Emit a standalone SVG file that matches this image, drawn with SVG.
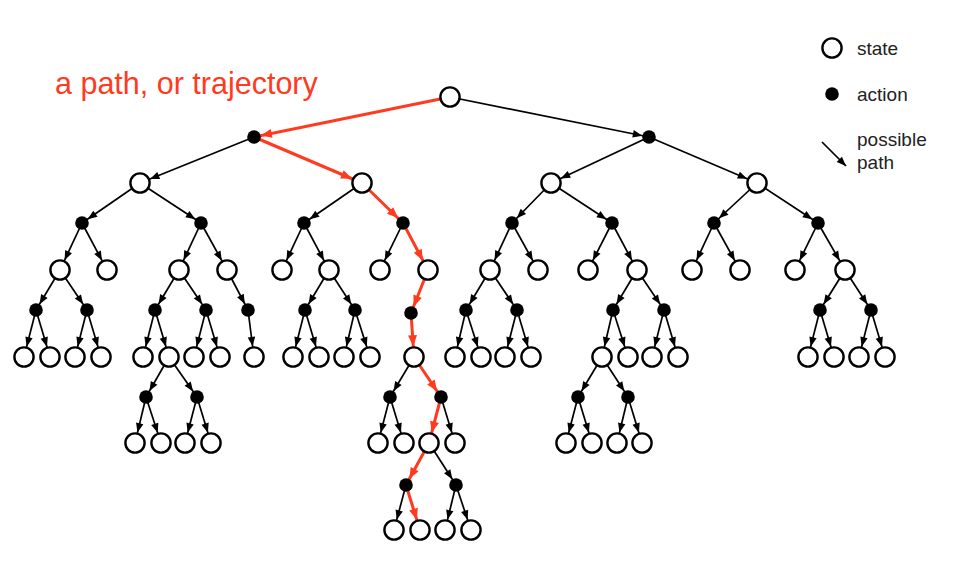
<svg xmlns="http://www.w3.org/2000/svg" width="954" height="564" viewBox="0 0 954 564">
  <style>
    .s { fill: #fff; stroke: #000; stroke-width: 2.4; }
    .a { fill: #000; }
    .e { stroke: #000; stroke-width: 1.7; fill: none; }
    .r { stroke: #ff3a1e; stroke-width: 3; fill: none; }
    .e.ts { marker-end: url(#hs); }
    .e.ta { marker-end: url(#ha); }
    .r.ts { marker-end: url(#rs); }
    .r.ta { marker-end: url(#ra); }
    .lbl { font-family: "Liberation Sans", Arial, sans-serif; font-size: 19px; fill: #222; }
    .title { font-family: "Liberation Sans", Arial, sans-serif; font-size: 30.5px; fill: #ff3a1e; }
  </style>
  <defs>
    <!-- arrowheads: refX pushes the tip back to the edge of the target node -->
    <marker id="hs" markerUnits="userSpaceOnUse" markerWidth="11" markerHeight="8" refX="20.2" refY="3.75" orient="auto" overflow="visible">
      <path d="M0,0 L9.5,3.75 L0,7.5z" fill="#000"/>
    </marker>
    <marker id="ha" markerUnits="userSpaceOnUse" markerWidth="11" markerHeight="8" refX="16.3" refY="3.75" orient="auto" overflow="visible">
      <path d="M0,0 L9.5,3.75 L0,7.5z" fill="#000"/>
    </marker>
    <marker id="rs" markerUnits="userSpaceOnUse" markerWidth="12" markerHeight="10" refX="21.8" refY="4.5" orient="auto" overflow="visible">
      <path d="M0,0 L11,4.5 L0,9z" fill="#ff3a1e"/>
    </marker>
    <marker id="ra" markerUnits="userSpaceOnUse" markerWidth="12" markerHeight="10" refX="18" refY="4.5" orient="auto" overflow="visible">
      <path d="M0,0 L11,4.5 L0,9z" fill="#ff3a1e"/>
    </marker>
    <marker id="hl" markerUnits="userSpaceOnUse" markerWidth="11" markerHeight="8" refX="9.5" refY="3.75" orient="auto" overflow="visible">
      <path d="M0,0 L9.5,3.75 L0,7.5z" fill="#000"/>
    </marker>
  </defs>

  <text class="title" x="55" y="94">a path, or trajectory</text>

  <!-- connectors -->
  <g id="connectors">
    <line class="r ta" x1="450" y1="97" x2="254" y2="137"/>
    <line class="e ta" x1="450" y1="97" x2="649" y2="137"/>
    <line class="e ts" x1="254" y1="137" x2="140" y2="183"/>
    <line class="r ts" x1="254" y1="137" x2="362" y2="183"/>
    <line class="e ts" x1="649" y1="137" x2="551" y2="183"/>
    <line class="e ts" x1="649" y1="137" x2="757" y2="183"/>

    <line class="e ta" x1="140" y1="183" x2="82" y2="223"/>
    <line class="e ta" x1="140" y1="183" x2="201" y2="223"/>
    <line class="e ta" x1="362" y1="183" x2="304" y2="223"/>
    <line class="r ta" x1="362" y1="183" x2="403" y2="223"/>
    <line class="e ta" x1="551" y1="183" x2="512" y2="223"/>
    <line class="e ta" x1="551" y1="183" x2="612" y2="223"/>
    <line class="e ta" x1="757" y1="183" x2="714" y2="223"/>
    <line class="e ta" x1="757" y1="183" x2="818" y2="223"/>

    <line class="e ts" x1="82" y1="223" x2="60" y2="270"/>
    <line class="e ts" x1="82" y1="223" x2="107" y2="270"/>
    <line class="e ts" x1="201" y1="223" x2="179" y2="270"/>
    <line class="e ts" x1="201" y1="223" x2="227" y2="270"/>
    <line class="e ts" x1="304" y1="223" x2="282" y2="270"/>
    <line class="e ts" x1="304" y1="223" x2="329" y2="270"/>
    <line class="e ts" x1="403" y1="223" x2="380" y2="270"/>
    <line class="r ts" x1="403" y1="223" x2="428" y2="270"/>
    <line class="e ts" x1="512" y1="223" x2="490" y2="270"/>
    <line class="e ts" x1="512" y1="223" x2="538" y2="270"/>
    <line class="e ts" x1="612" y1="223" x2="588" y2="270"/>
    <line class="e ts" x1="612" y1="223" x2="637" y2="270"/>
    <line class="e ts" x1="714" y1="223" x2="692" y2="270"/>
    <line class="e ts" x1="714" y1="223" x2="740" y2="270"/>
    <line class="e ts" x1="818" y1="223" x2="795" y2="270"/>
    <line class="e ts" x1="818" y1="223" x2="845" y2="270"/>

    <line class="e ta" x1="60" y1="270" x2="36" y2="310"/>
    <line class="e ta" x1="60" y1="270" x2="87" y2="310"/>
    <line class="e ta" x1="179" y1="270" x2="155" y2="310"/>
    <line class="e ta" x1="179" y1="270" x2="206" y2="310"/>
    <line class="e ta" x1="227" y1="270" x2="248" y2="310"/>
    <line class="e ta" x1="329" y1="270" x2="305" y2="310"/>
    <line class="e ta" x1="329" y1="270" x2="355" y2="310"/>
    <line class="r ta" x1="428" y1="270" x2="411" y2="313"/>
    <line class="e ta" x1="490" y1="270" x2="466" y2="310"/>
    <line class="e ta" x1="490" y1="270" x2="517" y2="310"/>
    <line class="e ta" x1="637" y1="270" x2="613" y2="310"/>
    <line class="e ta" x1="637" y1="270" x2="664" y2="310"/>
    <line class="e ta" x1="845" y1="270" x2="820" y2="310"/>
    <line class="e ta" x1="845" y1="270" x2="871" y2="310"/>

    <line class="e ts" x1="36" y1="310" x2="24" y2="357"/>
    <line class="e ts" x1="36" y1="310" x2="50" y2="357"/>
    <line class="e ts" x1="87" y1="310" x2="75" y2="357"/>
    <line class="e ts" x1="87" y1="310" x2="101" y2="357"/>
    <line class="e ts" x1="155" y1="310" x2="143" y2="357"/>
    <line class="e ts" x1="155" y1="310" x2="169" y2="357"/>
    <line class="e ts" x1="206" y1="310" x2="194" y2="357"/>
    <line class="e ts" x1="206" y1="310" x2="220" y2="357"/>
    <line class="e ts" x1="248" y1="310" x2="254" y2="357"/>
    <line class="e ts" x1="305" y1="310" x2="293" y2="357"/>
    <line class="e ts" x1="305" y1="310" x2="319" y2="357"/>
    <line class="e ts" x1="355" y1="310" x2="344" y2="357"/>
    <line class="e ts" x1="355" y1="310" x2="370" y2="357"/>
    <line class="r ts" x1="411" y1="313" x2="414" y2="357"/>
    <line class="e ts" x1="466" y1="310" x2="455" y2="357"/>
    <line class="e ts" x1="466" y1="310" x2="481" y2="357"/>
    <line class="e ts" x1="517" y1="310" x2="505" y2="357"/>
    <line class="e ts" x1="517" y1="310" x2="531" y2="357"/>
    <line class="e ts" x1="613" y1="310" x2="602" y2="357"/>
    <line class="e ts" x1="613" y1="310" x2="628" y2="357"/>
    <line class="e ts" x1="664" y1="310" x2="652" y2="357"/>
    <line class="e ts" x1="664" y1="310" x2="678" y2="357"/>
    <line class="e ts" x1="820" y1="310" x2="808" y2="357"/>
    <line class="e ts" x1="820" y1="310" x2="834" y2="357"/>
    <line class="e ts" x1="871" y1="310" x2="859" y2="357"/>
    <line class="e ts" x1="871" y1="310" x2="885" y2="357"/>

    <line class="e ta" x1="169" y1="357" x2="146" y2="397"/>
    <line class="e ta" x1="169" y1="357" x2="197" y2="397"/>
    <line class="e ta" x1="414" y1="357" x2="390" y2="397"/>
    <line class="r ta" x1="414" y1="357" x2="441" y2="397"/>
    <line class="e ta" x1="602" y1="357" x2="578" y2="397"/>
    <line class="e ta" x1="602" y1="357" x2="628" y2="397"/>

    <line class="e ts" x1="146" y1="397" x2="135" y2="443"/>
    <line class="e ts" x1="146" y1="397" x2="161" y2="443"/>
    <line class="e ts" x1="197" y1="397" x2="185" y2="443"/>
    <line class="e ts" x1="197" y1="397" x2="211" y2="443"/>
    <line class="e ts" x1="390" y1="397" x2="378" y2="443"/>
    <line class="e ts" x1="390" y1="397" x2="404" y2="443"/>
    <line class="r ts" x1="441" y1="397" x2="429" y2="443"/>
    <line class="e ts" x1="441" y1="397" x2="455" y2="443"/>
    <line class="e ts" x1="578" y1="397" x2="566" y2="443"/>
    <line class="e ts" x1="578" y1="397" x2="592" y2="443"/>
    <line class="e ts" x1="628" y1="397" x2="617" y2="443"/>
    <line class="e ts" x1="628" y1="397" x2="642" y2="443"/>

    <line class="r ta" x1="429" y1="443" x2="406" y2="485"/>
    <line class="e ta" x1="429" y1="443" x2="456" y2="485"/>

    <line class="e ts" x1="406" y1="485" x2="394" y2="530"/>
    <line class="r ts" x1="406" y1="485" x2="420" y2="530"/>
    <line class="e ts" x1="456" y1="485" x2="445" y2="530"/>
    <line class="e ts" x1="456" y1="485" x2="471" y2="530"/>
  </g>

  <!-- state nodes (open circles) -->
  <g id="s-root"><circle class="s" cx="450" cy="97" r="9.6"/></g>
  <g id="s-140-183"><circle class="s" cx="140" cy="183" r="9.6"/></g>
  <g id="s-362-183"><circle class="s" cx="362" cy="183" r="9.6"/></g>
  <g id="s-551-183"><circle class="s" cx="551" cy="183" r="9.6"/></g>
  <g id="s-757-183"><circle class="s" cx="757" cy="183" r="9.6"/></g>

  <g id="s-60-270"><circle class="s" cx="60" cy="270" r="9.6"/></g>
  <g id="s-107-270"><circle class="s" cx="107" cy="270" r="9.6"/></g>
  <g id="s-179-270"><circle class="s" cx="179" cy="270" r="9.6"/></g>
  <g id="s-227-270"><circle class="s" cx="227" cy="270" r="9.6"/></g>
  <g id="s-282-270"><circle class="s" cx="282" cy="270" r="9.6"/></g>
  <g id="s-329-270"><circle class="s" cx="329" cy="270" r="9.6"/></g>
  <g id="s-380-270"><circle class="s" cx="380" cy="270" r="9.6"/></g>
  <g id="s-428-270"><circle class="s" cx="428" cy="270" r="9.6"/></g>
  <g id="s-490-270"><circle class="s" cx="490" cy="270" r="9.6"/></g>
  <g id="s-538-270"><circle class="s" cx="538" cy="270" r="9.6"/></g>
  <g id="s-588-270"><circle class="s" cx="588" cy="270" r="9.6"/></g>
  <g id="s-637-270"><circle class="s" cx="637" cy="270" r="9.6"/></g>
  <g id="s-692-270"><circle class="s" cx="692" cy="270" r="9.6"/></g>
  <g id="s-740-270"><circle class="s" cx="740" cy="270" r="9.6"/></g>
  <g id="s-795-270"><circle class="s" cx="795" cy="270" r="9.6"/></g>
  <g id="s-845-270"><circle class="s" cx="845" cy="270" r="9.6"/></g>

  <g id="s-24-357"><circle class="s" cx="24" cy="357" r="9.6"/></g>
  <g id="s-50-357"><circle class="s" cx="50" cy="357" r="9.6"/></g>
  <g id="s-75-357"><circle class="s" cx="75" cy="357" r="9.6"/></g>
  <g id="s-101-357"><circle class="s" cx="101" cy="357" r="9.6"/></g>
  <g id="s-143-357"><circle class="s" cx="143" cy="357" r="9.6"/></g>
  <g id="s-169-357"><circle class="s" cx="169" cy="357" r="9.6"/></g>
  <g id="s-194-357"><circle class="s" cx="194" cy="357" r="9.6"/></g>
  <g id="s-220-357"><circle class="s" cx="220" cy="357" r="9.6"/></g>
  <g id="s-254-357"><circle class="s" cx="254" cy="357" r="9.6"/></g>
  <g id="s-293-357"><circle class="s" cx="293" cy="357" r="9.6"/></g>
  <g id="s-319-357"><circle class="s" cx="319" cy="357" r="9.6"/></g>
  <g id="s-344-357"><circle class="s" cx="344" cy="357" r="9.6"/></g>
  <g id="s-370-357"><circle class="s" cx="370" cy="357" r="9.6"/></g>
  <g id="s-414-357"><circle class="s" cx="414" cy="357" r="9.6"/></g>
  <g id="s-455-357"><circle class="s" cx="455" cy="357" r="9.6"/></g>
  <g id="s-481-357"><circle class="s" cx="481" cy="357" r="9.6"/></g>
  <g id="s-505-357"><circle class="s" cx="505" cy="357" r="9.6"/></g>
  <g id="s-531-357"><circle class="s" cx="531" cy="357" r="9.6"/></g>
  <g id="s-602-357"><circle class="s" cx="602" cy="357" r="9.6"/></g>
  <g id="s-628-357"><circle class="s" cx="628" cy="357" r="9.6"/></g>
  <g id="s-652-357"><circle class="s" cx="652" cy="357" r="9.6"/></g>
  <g id="s-678-357"><circle class="s" cx="678" cy="357" r="9.6"/></g>
  <g id="s-808-357"><circle class="s" cx="808" cy="357" r="9.6"/></g>
  <g id="s-834-357"><circle class="s" cx="834" cy="357" r="9.6"/></g>
  <g id="s-859-357"><circle class="s" cx="859" cy="357" r="9.6"/></g>
  <g id="s-885-357"><circle class="s" cx="885" cy="357" r="9.6"/></g>

  <g id="s-135-443"><circle class="s" cx="135" cy="443" r="9.6"/></g>
  <g id="s-161-443"><circle class="s" cx="161" cy="443" r="9.6"/></g>
  <g id="s-185-443"><circle class="s" cx="185" cy="443" r="9.6"/></g>
  <g id="s-211-443"><circle class="s" cx="211" cy="443" r="9.6"/></g>
  <g id="s-378-443"><circle class="s" cx="378" cy="443" r="9.6"/></g>
  <g id="s-404-443"><circle class="s" cx="404" cy="443" r="9.6"/></g>
  <g id="s-429-443"><circle class="s" cx="429" cy="443" r="9.6"/></g>
  <g id="s-455-443"><circle class="s" cx="455" cy="443" r="9.6"/></g>
  <g id="s-566-443"><circle class="s" cx="566" cy="443" r="9.6"/></g>
  <g id="s-592-443"><circle class="s" cx="592" cy="443" r="9.6"/></g>
  <g id="s-617-443"><circle class="s" cx="617" cy="443" r="9.6"/></g>
  <g id="s-642-443"><circle class="s" cx="642" cy="443" r="9.6"/></g>

  <g id="s-394-530"><circle class="s" cx="394" cy="530" r="9.6"/></g>
  <g id="s-420-530"><circle class="s" cx="420" cy="530" r="9.6"/></g>
  <g id="s-445-530"><circle class="s" cx="445" cy="530" r="9.6"/></g>
  <g id="s-471-530"><circle class="s" cx="471" cy="530" r="9.6"/></g>

  <!-- action nodes (filled dots) -->
  <g id="a-254-137"><circle class="a" cx="254" cy="137" r="6.8"/></g>
  <g id="a-649-137"><circle class="a" cx="649" cy="137" r="6.8"/></g>

  <g id="a-82-223"><circle class="a" cx="82" cy="223" r="6.8"/></g>
  <g id="a-201-223"><circle class="a" cx="201" cy="223" r="6.8"/></g>
  <g id="a-304-223"><circle class="a" cx="304" cy="223" r="6.8"/></g>
  <g id="a-403-223"><circle class="a" cx="403" cy="223" r="6.8"/></g>
  <g id="a-512-223"><circle class="a" cx="512" cy="223" r="6.8"/></g>
  <g id="a-612-223"><circle class="a" cx="612" cy="223" r="6.8"/></g>
  <g id="a-714-223"><circle class="a" cx="714" cy="223" r="6.8"/></g>
  <g id="a-818-223"><circle class="a" cx="818" cy="223" r="6.8"/></g>

  <g id="a-36-310"><circle class="a" cx="36" cy="310" r="6.8"/></g>
  <g id="a-87-310"><circle class="a" cx="87" cy="310" r="6.8"/></g>
  <g id="a-155-310"><circle class="a" cx="155" cy="310" r="6.8"/></g>
  <g id="a-206-310"><circle class="a" cx="206" cy="310" r="6.8"/></g>
  <g id="a-248-310"><circle class="a" cx="248" cy="310" r="6.8"/></g>
  <g id="a-305-310"><circle class="a" cx="305" cy="310" r="6.8"/></g>
  <g id="a-355-310"><circle class="a" cx="355" cy="310" r="6.8"/></g>
  <g id="a-411-313"><circle class="a" cx="411" cy="313" r="6.8"/></g>
  <g id="a-466-310"><circle class="a" cx="466" cy="310" r="6.8"/></g>
  <g id="a-517-310"><circle class="a" cx="517" cy="310" r="6.8"/></g>
  <g id="a-613-310"><circle class="a" cx="613" cy="310" r="6.8"/></g>
  <g id="a-664-310"><circle class="a" cx="664" cy="310" r="6.8"/></g>
  <g id="a-820-310"><circle class="a" cx="820" cy="310" r="6.8"/></g>
  <g id="a-871-310"><circle class="a" cx="871" cy="310" r="6.8"/></g>

  <g id="a-146-397"><circle class="a" cx="146" cy="397" r="6.8"/></g>
  <g id="a-197-397"><circle class="a" cx="197" cy="397" r="6.8"/></g>
  <g id="a-390-397"><circle class="a" cx="390" cy="397" r="6.8"/></g>
  <g id="a-441-397"><circle class="a" cx="441" cy="397" r="6.8"/></g>
  <g id="a-578-397"><circle class="a" cx="578" cy="397" r="6.8"/></g>
  <g id="a-628-397"><circle class="a" cx="628" cy="397" r="6.8"/></g>

  <g id="a-406-485"><circle class="a" cx="406" cy="485" r="6.8"/></g>
  <g id="a-456-485"><circle class="a" cx="456" cy="485" r="6.8"/></g>

  <!-- legend -->
  <g id="legend-state">
    <circle class="s" cx="832" cy="48" r="9.6"/>
    <text class="lbl" x="857" y="55">state</text>
  </g>
  <g id="legend-action">
    <circle class="a" cx="832" cy="94" r="6.8"/>
    <text class="lbl" x="857" y="101">action</text>
  </g>
  <g id="legend-path">
    <line x1="822" y1="142" x2="846" y2="166" stroke="#000" stroke-width="1.7" marker-end="url(#hl)"/>
    <text class="lbl" x="857" y="146">possible</text>
    <text class="lbl" x="857" y="169">path</text>
  </g>
</svg>
